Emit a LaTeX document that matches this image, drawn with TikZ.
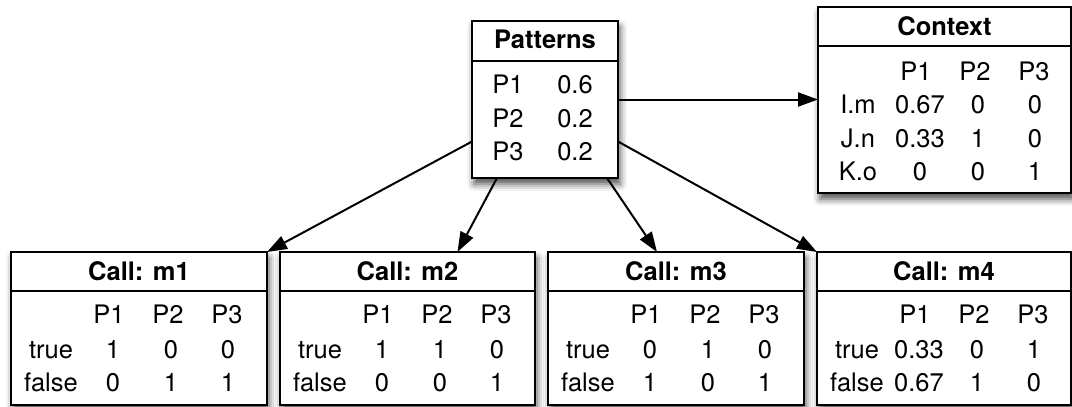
\documentclass[tikz,border=0pt]{standalone}
\usepackage{fontspec}
\setmainfont{TeX Gyre Heros}
\usetikzlibrary{arrows.meta,shadows.blur}

\tikzset{
  panel/.style={draw=black, line width=2.4pt, fill=white, rectangle,
    inner sep=0pt, outer sep=0pt, anchor=north west,
    blur shadow={shadow xshift=2pt, shadow yshift=-6pt,
      shadow blur radius=7pt, shadow opacity=70}},
  cell/.style={anchor=base, inner sep=0pt, font=\fontsize{25.5}{30}\selectfont},
  title/.style={anchor=base, inner sep=0pt, font=\fontsize{25.5}{30}\selectfont\bfseries},
  divider/.style={line width=2pt},
  link/.style={line width=2pt, -{Triangle[length=20pt,width=14pt]}},
}

% column header row of a probability table: prefix, left edge, baseline
\newcommand\headrow[3]{%
  \node[cell] (#1-p1) at (#2+98,#3) {P1};
  \node[cell] (#1-p2) at (#2+157,#3) {P2};
  \node[cell] (#1-p3) at (#2+216,#3) {P3};}
% one labelled row: prefix, left edge, baseline, label, three values
\newcommand\valrow[7]{%
  \node[cell] (#1-l) at (#2+40,#3) {#4};
  \node[cell] (#1-a) at (#2+102,#3) {#5};
  \node[cell] (#1-b) at (#2+160,#3) {#6};
  \node[cell] (#1-c) at (#2+217,#3) {#7};}

\begin{document}
\begin{tikzpicture}[x=1pt, y=-1pt]
\useasboundingbox (0,0) rectangle (1072,407);

% boxes
\node[panel, minimum width=146pt, minimum height=157pt] (pat) at (472,21) {};
\node[panel, minimum width=253pt, minimum height=186pt] (ctx) at (818,7) {};
\node[panel, minimum width=256pt, minimum height=153pt] (m1) at (11,252) {};
\node[panel, minimum width=255pt, minimum height=153pt] (m2) at (280,252) {};
\node[panel, minimum width=256pt, minimum height=153pt] (m3) at (548,252) {};
\node[panel, minimum width=254pt, minimum height=153pt] (m4) at (817,252) {};

% header dividers
\draw[divider] ([yshift=-40pt]pat.north west) -- ([yshift=-40pt]pat.north east);
\draw[divider] ([yshift=-39pt]ctx.north west) -- ([yshift=-39pt]ctx.north east);
\foreach \b in {m1,m2,m3,m4}
  \draw[divider] ([yshift=-39pt]\b.north west) -- ([yshift=-39pt]\b.north east);

% Patterns
\node[title] (pat-t) at (545,48) {Patterns};
\node[cell] (pat-l1) at (508,93) {P1};  \node[cell] (pat-v1) at (575,93) {0.6};
\node[cell] (pat-l2) at (508,127) {P2}; \node[cell] (pat-v2) at (575,127) {0.2};
\node[cell] (pat-l3) at (508,160) {P3}; \node[cell] (pat-v3) at (575,160) {0.2};

% Context
\node[title] (ctx-t) at (944.5,35) {Context};
\headrow{ctx-h}{818}{80}
\valrow{ctx-r1}{818}{113}{I.m}{0.67}{0}{0}
\valrow{ctx-r2}{818}{147}{J.n}{0.33}{1}{0}
\valrow{ctx-r3}{818}{180}{K.o}{0}{0}{1}

% Calls
\node[title] (m1-t) at (139,280) {Call: m1};
\headrow{m1-h}{11}{323}
\valrow{m1-r1}{11}{358}{true}{1}{0}{0}
\valrow{m1-r2}{11}{391}{false}{0}{1}{1}

\node[title] (m2-t) at (407.5,280) {Call: m2};
\headrow{m2-h}{280}{323}
\valrow{m2-r1}{280}{358}{true}{1}{1}{0}
\valrow{m2-r2}{280}{391}{false}{0}{0}{1}

\node[title] (m3-t) at (676,280) {Call: m3};
\headrow{m3-h}{548}{323}
\valrow{m3-r1}{548}{358}{true}{0}{1}{0}
\valrow{m3-r2}{548}{391}{false}{1}{0}{1}

\node[title] (m4-t) at (944,280) {Call: m4};
\headrow{m4-h}{817}{323}
\valrow{m4-r1}{817}{358}{true}{0.33}{0}{1}
\valrow{m4-r2}{817}{391}{false}{0.67}{1}{0}

% connectors
\draw[link] (pat.east) -- (pat.east -| ctx.west);
\draw[link] ([yshift=-42pt]pat.west) -- (m1.north east);
\draw[link] ([xshift=-48pt]pat.south) -- ([xshift=50pt]m2.north);
\draw[link] ([xshift=62pt]pat.south) -- ([xshift=-19pt]m3.north);
\draw[link] ([yshift=-42pt]pat.east) -- (m4.north west);
\end{tikzpicture}
\end{document}
